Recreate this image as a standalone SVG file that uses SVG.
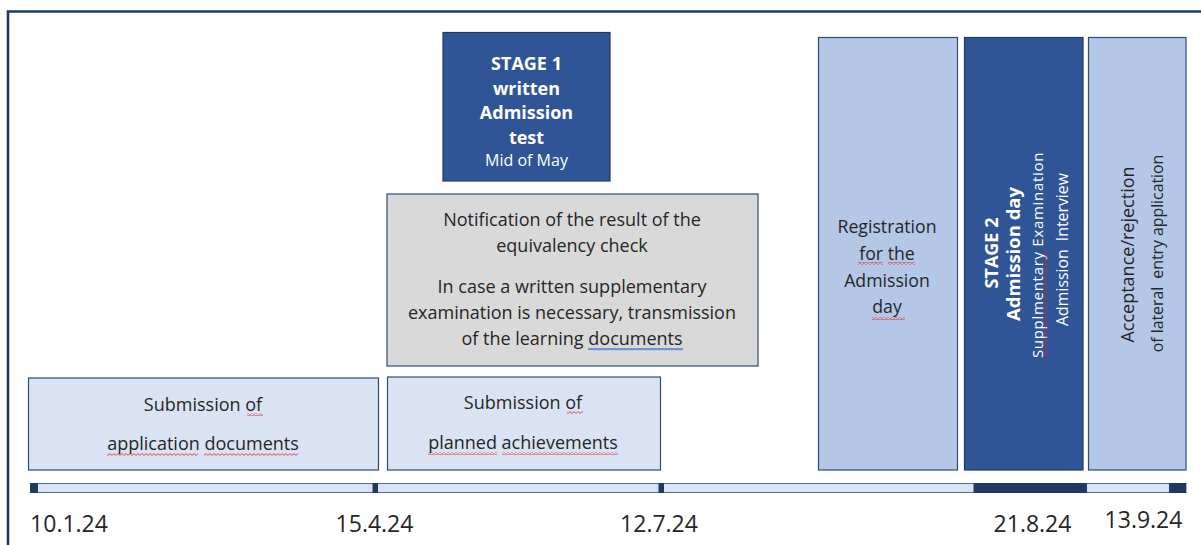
<svg xmlns="http://www.w3.org/2000/svg" width="1201" height="545" viewBox="0 0 1201 545">
<defs>
<pattern id="squig" width="4" height="3" patternUnits="userSpaceOnUse"><path d="M0,2.4 L2,0.6 L4,2.4" fill="none" stroke="#e02020" stroke-width="0.8"/></pattern>
<pattern id="squigv" width="3" height="4" patternUnits="userSpaceOnUse"><path d="M0.6,0 L2.4,2 L0.6,4" fill="none" stroke="#e02020" stroke-width="0.8"/></pattern>
</defs>
<style>
.t{font-family:"Open Sans","Liberation Sans",sans-serif;fill:#262626;text-anchor:middle}
.w{font-family:"Open Sans","Liberation Sans",sans-serif;fill:#ffffff;text-anchor:middle}
.b{font-weight:bold}
.dark{fill:#2f5597;stroke:#203864;stroke-width:1.2}
.mid{fill:#b4c7e7;stroke:#2f4a7a;stroke-width:1.2}
.light{fill:#dae3f3;stroke:#2f4a7a;stroke-width:1.2}
.gray{fill:#d9d9d9;stroke:#2f4a7a;stroke-width:1.2}
.mk{fill:#203864}
.sq{fill:url(#squig)}
</style>
<rect width="1201" height="545" fill="#ffffff"/>
<path d="M8,545 V11.5 H1201" fill="none" stroke="#1f3864" stroke-width="2.6"/>

<g id="stage1">
<rect class="dark" x="443" y="32.5" width="167" height="148.5"/>
<text class="w b" x="526.5" y="70" font-size="18">STAGE 1</text>
<text class="w b" x="526.5" y="94.5" font-size="18">written</text>
<text class="w b" x="526.5" y="119" font-size="18">Admission</text>
<text class="w b" x="526.5" y="143.5" font-size="18">test</text>
<text class="w" x="526.5" y="166" font-size="16">Mid of May</text>
</g>

<g id="notification">
<rect class="gray" x="387" y="194" width="371" height="172"/>
<text class="t" x="572" y="226" font-size="18">Notification of the result of the</text>
<text class="t" x="572" y="252" font-size="18">equivalency check</text>
<text class="t" x="572" y="293" font-size="18">In case a written supplementary</text>
<text class="t" x="572" y="319" font-size="18">examination is necessary, transmission</text>
<text class="t" x="572" y="345" font-size="18">of the learning documents</text>
<rect x="588" y="348" width="95" height="2.2" fill="#6f94d6"/>
</g>

<g id="submission-application">
<rect class="light" x="28.5" y="378" width="350" height="92"/>
<text class="t" x="203" y="411" font-size="18">Submission of</text>
<text class="t" x="203" y="450" font-size="18">application documents</text>
<rect class="sq" x="247" y="413" width="16" height="3"/>
<rect class="sq" x="107" y="453" width="91" height="3"/>
<rect class="sq" x="204" y="453" width="94" height="3"/>
</g>

<g id="submission-achievements">
<rect class="light" x="387.5" y="377" width="273" height="93"/>
<text class="t" x="523" y="409" font-size="18">Submission of</text>
<text class="t" x="523" y="449" font-size="18">planned achievements</text>
<rect class="sq" x="567" y="411" width="16" height="3"/>
<rect class="sq" x="428" y="452" width="69" height="3"/>
<rect class="sq" x="502" y="452" width="116" height="3"/>
</g>

<g id="registration">
<rect class="mid" x="818.5" y="37.5" width="139" height="432.5"/>
<text class="t" x="887" y="233" font-size="17.7">Registration</text>
<text class="t" x="887" y="260" font-size="17.7">for the</text>
<text class="t" x="887" y="287" font-size="17.7">Admission</text>
<text class="t" x="887" y="313" font-size="17.7">day</text>
<rect class="sq" x="858" y="262" width="25" height="3"/>
<rect class="sq" x="888" y="262" width="27" height="3"/>
<rect class="sq" x="872" y="317" width="33" height="3"/>
</g>

<g id="stage2">
<rect class="dark" x="964.5" y="37.5" width="118.5" height="432.5"/>
<text class="w b" font-size="18" transform="translate(998,253) rotate(-90)">STAGE 2</text>
<text class="w b" font-size="18.5" transform="translate(1020,254) rotate(-90)">Admission day</text>
<text class="w" font-size="15" letter-spacing="0.7" transform="translate(1043,255) rotate(-90)">Supplmentary Examination</text>
<text class="w" font-size="15.8" transform="translate(1068,249.5) rotate(-90)" xml:space="preserve">Admission  Interview</text>
<rect x="1045" y="250" width="3" height="108" fill="url(#squigv)"/>
</g>

<g id="acceptance">
<rect class="mid" x="1088.5" y="37.5" width="97.5" height="432.5"/>
<text class="t" font-size="18" transform="translate(1134,254.5) rotate(-90)">Acceptance/rejection</text>
<text class="t" font-size="15.8" transform="translate(1163,253.5) rotate(-90)" xml:space="preserve">of lateral  entry application</text>
</g>

<g id="timeline">
<rect x="30.5" y="483.5" width="1155.5" height="9" fill="#dae3f3" stroke="#4a6aa5" stroke-width="1"/>
<rect class="mk" x="30" y="483" width="8" height="10"/>
<rect class="mk" x="372.5" y="483" width="5.5" height="10"/>
<rect class="mk" x="658.5" y="483" width="5.5" height="10"/>
<rect class="mk" x="973.5" y="483" width="113.5" height="10"/>
<rect class="mk" x="1169" y="483" width="17" height="10"/>
<text class="t" x="69" y="532" font-size="23">10.1.24</text>
<text class="t" x="374.5" y="532" font-size="23">15.4.24</text>
<text class="t" x="659" y="532" font-size="23">12.7.24</text>
<text class="t" x="1032.5" y="532" font-size="23">21.8.24</text>
<text class="t" x="1143.5" y="528" font-size="23">13.9.24</text>
</g>
</svg>
